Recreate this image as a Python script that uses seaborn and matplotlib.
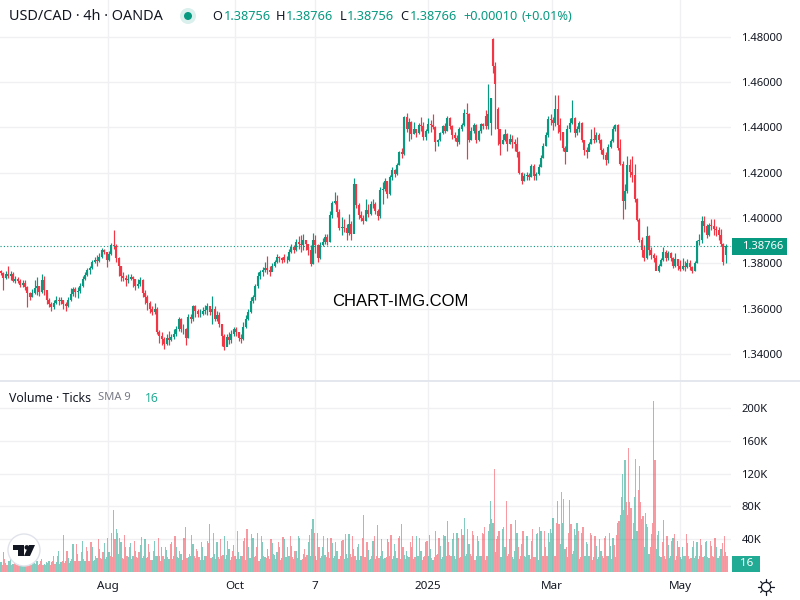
import numpy as np
import matplotlib
matplotlib.use('Agg')
import matplotlib.pyplot as plt
from matplotlib.patches import Circle, Rectangle, Polygon
import seaborn as sns

# 4h candles (one slot = 2.4 px)
opens = [
    1.3765,1.3758,1.3735,1.3752,1.3745,1.3755,1.3722,1.3730,1.3724,1.3705,
    1.3712,1.3697,1.3670,1.3652,1.3668,1.3690,1.3700,1.3672,1.3728,1.3680,
    1.3640,1.3620,1.3605,1.3625,1.3640,1.3632,1.3636,1.3622,1.3610,1.3640,
    1.3665,1.3685,1.3672,1.3678,1.3700,1.3730,1.3750,1.3770,1.3778,1.3805,
    1.3815,1.3810,1.3830,1.3860,1.3848,1.3815,1.3840,1.3880,1.3875,1.3825,
    1.3790,1.3745,1.3735,1.3728,1.3730,1.3740,1.3730,1.3700,1.3708,1.3725,
    1.3670,1.3650,1.3625,1.3600,1.3585,1.3600,1.3495,1.3480,1.3465,1.3445,
    1.3470,1.3460,1.3475,1.3490,1.3510,1.3555,1.3510,1.3510,1.3470,1.3565,
    1.3555,1.3610,1.3590,1.3575,1.3578,1.3590,1.3595,1.3610,1.3585,1.3600,
    1.3555,1.3570,1.3530,1.3480,1.3430,1.3475,1.3460,1.3490,1.3510,1.3495,
    1.3470,1.3465,1.3520,1.3555,1.3585,1.3635,1.3650,1.3700,1.3745,1.3760,
    1.3770,1.3780,1.3770,1.3760,1.3790,1.3805,1.3830,1.3822,1.3830,1.3815,
    1.3815,1.3850,1.3870,1.3860,1.3895,1.3885,1.3880,1.3905,1.3885,1.3860,
    1.3795,1.3905,1.3880,1.3825,1.3880,1.3895,1.3915,1.3895,1.4015,1.4068,
    1.4075,1.4027,1.3955,1.3960,1.3955,1.3935,1.3975,1.3930,1.4150,1.4057,
    1.4013,1.4000,1.3985,1.4035,1.4020,1.4060,1.4062,1.4030,1.4010,1.4125,
    1.4130,1.4165,1.4105,1.4180,1.4210,1.4195,1.4235,1.4290,1.4285,1.4445,
    1.4395,1.4425,1.4370,1.4395,1.4375,1.4410,1.4405,1.4360,1.4385,1.4415,
    1.4410,1.4400,1.4335,1.4345,1.4375,1.4405,1.4385,1.4440,1.4405,1.4365,
    1.4355,1.4335,1.4395,1.4410,1.4465,1.4460,1.4345,1.4385,1.4410,1.4345,
    1.4385,1.4415,1.4450,1.4405,1.4420,1.4790,1.4670,1.4480,1.4395,1.4325,
    1.4345,1.4370,1.4325,1.4350,1.4335,1.4325,1.4290,1.4200,1.4165,1.4185,
    1.4190,1.4180,1.4230,1.4185,1.4195,1.4225,1.4265,1.4320,1.4365,1.4439,
    1.4435,1.4420,1.4480,1.4410,1.4380,1.4310,1.4290,1.4395,1.4420,1.4440,
    1.4375,1.4395,1.4420,1.4345,1.4300,1.4290,1.4325,1.4350,1.4345,1.4365,
    1.4345,1.4300,1.4280,1.4255,1.4315,1.4340,1.4395,1.4410,1.4310,1.4240,
    1.4077,1.4120,1.4235,1.4205,1.4190,1.4085,1.3990,1.3905,1.3860,1.3825,
    1.3920,1.3860,1.3835,1.3825,1.3765,1.3790,1.3815,1.3850,1.3825,1.3845,
    1.3825,1.3790,1.3820,1.3790,1.3775,1.3790,1.3785,1.3800,1.3785,1.3765,
    1.3800,1.3900,1.3905,1.3985,1.3965,1.3925,1.3970,1.3965,1.3950,1.3945,
    1.3925,1.3885,1.3838]
highs = [
    1.3770,1.3762,1.3768,1.3790,1.3768,1.3760,1.3745,1.3738,1.3730,1.3725,
    1.3728,1.3700,1.3675,1.3685,1.3725,1.3738,1.3700,1.3755,1.3745,1.3675,
    1.3645,1.3630,1.3640,1.3655,1.3650,1.3650,1.3640,1.3630,1.3650,1.3690,
    1.3695,1.3695,1.3695,1.3715,1.3745,1.3760,1.3778,1.3790,1.3815,1.3830,
    1.3835,1.3845,1.3868,1.3862,1.3850,1.3855,1.3888,1.3947,1.3885,1.3830,
    1.3790,1.3760,1.3750,1.3752,1.3755,1.3745,1.3730,1.3730,1.3738,1.3730,
    1.3680,1.3660,1.3635,1.3610,1.3625,1.3605,1.3505,1.3495,1.3475,1.3490,
    1.3500,1.3490,1.3510,1.3525,1.3565,1.3560,1.3530,1.3515,1.3575,1.3575,
    1.3618,1.3615,1.3600,1.3600,1.3605,1.3615,1.3625,1.3612,1.3655,1.3610,
    1.3590,1.3585,1.3530,1.3490,1.3490,1.3495,1.3505,1.3520,1.3520,1.3495,
    1.3490,1.3540,1.3570,1.3600,1.3650,1.3660,1.3710,1.3760,1.3772,1.3782,
    1.3805,1.3834,1.3790,1.3800,1.3815,1.3840,1.3832,1.3830,1.3840,1.3832,
    1.3862,1.3885,1.3880,1.3908,1.3920,1.3925,1.3930,1.3905,1.3885,1.3880,
    1.3935,1.3925,1.3885,1.3895,1.3910,1.3930,1.3930,1.4030,1.4075,1.4114,
    1.4100,1.4040,1.4005,1.3995,1.3975,1.4020,1.3985,1.4175,1.4150,1.4065,
    1.4030,1.4015,1.4085,1.4060,1.4075,1.4085,1.4072,1.4040,1.4135,1.4160,
    1.4178,1.4160,1.4190,1.4225,1.4215,1.4245,1.4295,1.4310,1.4450,1.4466,
    1.4440,1.4430,1.4425,1.4395,1.4420,1.4445,1.4425,1.4395,1.4440,1.4435,
    1.4458,1.4405,1.4350,1.4380,1.4410,1.4420,1.4450,1.4445,1.4410,1.4380,
    1.4365,1.4400,1.4420,1.4480,1.4510,1.4462,1.4400,1.4420,1.4415,1.4390,
    1.4420,1.4420,1.4475,1.4593,1.4530,1.4797,1.4690,1.4490,1.4395,1.4370,
    1.4395,1.4375,1.4370,1.4365,1.4350,1.4360,1.4295,1.4205,1.4200,1.4205,
    1.4200,1.4240,1.4240,1.4205,1.4240,1.4280,1.4330,1.4380,1.4450,1.4461,
    1.4445,1.4542,1.4542,1.4440,1.4380,1.4320,1.4410,1.4440,1.4520,1.4445,
    1.4405,1.4430,1.4425,1.4345,1.4315,1.4335,1.4395,1.4400,1.4380,1.4375,
    1.4350,1.4310,1.4290,1.4325,1.4350,1.4405,1.4415,1.4415,1.4350,1.4250,
    1.4150,1.4275,1.4260,1.4275,1.4240,1.4090,1.3998,1.3915,1.3880,1.3965,
    1.3925,1.3870,1.3845,1.3835,1.3795,1.3825,1.3870,1.3860,1.3855,1.3850,
    1.3830,1.3845,1.3820,1.3815,1.3825,1.3810,1.3820,1.3815,1.3790,1.3810,
    1.3905,1.3930,1.4010,1.4010,1.3975,1.3980,1.3995,1.3995,1.3965,1.3960,
    1.3950,1.3890,1.3885]
lows = [
    1.3750,1.3682,1.3730,1.3735,1.3725,1.3718,1.3715,1.3712,1.3695,1.3695,
    1.3680,1.3605,1.3640,1.3650,1.3665,1.3660,1.3655,1.3670,1.3660,1.3620,
    1.3605,1.3590,1.3600,1.3620,1.3615,1.3620,1.3600,1.3590,1.3605,1.3635,
    1.3655,1.3650,1.3645,1.3670,1.3695,1.3725,1.3745,1.3755,1.3775,1.3800,
    1.3790,1.3805,1.3825,1.3840,1.3785,1.3810,1.3835,1.3865,1.3805,1.3745,
    1.3720,1.3720,1.3700,1.3715,1.3725,1.3695,1.3680,1.3690,1.3700,1.3650,
    1.3620,1.3595,1.3580,1.3570,1.3575,1.3490,1.3450,1.3440,1.3420,1.3440,
    1.3440,1.3455,1.3465,1.3480,1.3500,1.3495,1.3490,1.3440,1.3470,1.3535,
    1.3545,1.3565,1.3565,1.3565,1.3570,1.3575,1.3570,1.3570,1.3530,1.3545,
    1.3545,1.3520,1.3435,1.3418,1.3440,1.3445,1.3450,1.3480,1.3480,1.3455,
    1.3450,1.3460,1.3515,1.3550,1.3580,1.3625,1.3640,1.3690,1.3730,1.3745,
    1.3760,1.3755,1.3745,1.3770,1.3785,1.3800,1.3805,1.3800,1.3805,1.3800,
    1.3810,1.3845,1.3845,1.3855,1.3865,1.3850,1.3860,1.3860,1.3835,1.3790,
    1.3795,1.3845,1.3805,1.3820,1.3875,1.3885,1.3880,1.3895,1.4000,1.4060,
    1.4005,1.3945,1.3925,1.3940,1.3905,1.3925,1.3905,1.3945,1.4045,1.3995,
    1.3985,1.3975,1.3985,1.4005,1.4015,1.4045,1.4020,1.3990,1.4000,1.4060,
    1.4120,1.4090,1.4100,1.4170,1.4180,1.4190,1.4235,1.4265,1.4280,1.4380,
    1.4340,1.4350,1.4370,1.4360,1.4370,1.4385,1.4345,1.4345,1.4375,1.4380,
    1.4395,1.4295,1.4318,1.4340,1.4370,1.4375,1.4385,1.4395,1.4350,1.4340,
    1.4320,1.4325,1.4385,1.4405,1.4261,1.4335,1.4345,1.4375,1.4330,1.4340,
    1.4375,1.4395,1.4395,1.4395,1.4365,1.4640,1.4395,1.4322,1.4280,1.4325,
    1.4340,1.4295,1.4325,1.4310,1.4295,1.4270,1.4195,1.4150,1.4165,1.4170,
    1.4170,1.4180,1.4170,1.4170,1.4190,1.4225,1.4265,1.4320,1.4360,1.4410,
    1.4390,1.4405,1.4375,1.4345,1.4295,1.4238,1.4330,1.4380,1.4415,1.4360,
    1.4365,1.4380,1.4335,1.4280,1.4265,1.4295,1.4325,1.4330,1.4335,1.4330,
    1.4285,1.4260,1.4235,1.4245,1.4310,1.4335,1.4385,1.4300,1.4235,1.3997,
    1.4040,1.4110,1.4180,1.4160,1.4070,1.3985,1.3895,1.3830,1.3810,1.3820,
    1.3835,1.3820,1.3805,1.3770,1.3760,1.3790,1.3810,1.3810,1.3815,1.3810,
    1.3780,1.3785,1.3770,1.3765,1.3770,1.3765,1.3780,1.3770,1.3758,1.3765,
    1.3800,1.3880,1.3890,1.3940,1.3910,1.3920,1.3945,1.3925,1.3920,1.3905,
    1.3875,1.3792,1.3800]
closes = [
    1.3758,1.3735,1.3752,1.3745,1.3755,1.3722,1.3730,1.3724,1.3705,1.3712,
    1.3697,1.3670,1.3652,1.3668,1.3690,1.3700,1.3672,1.3728,1.3680,1.3640,
    1.3620,1.3605,1.3625,1.3640,1.3632,1.3636,1.3622,1.3610,1.3640,1.3665,
    1.3685,1.3672,1.3678,1.3700,1.3730,1.3750,1.3770,1.3778,1.3805,1.3815,
    1.3810,1.3830,1.3860,1.3848,1.3815,1.3840,1.3880,1.3875,1.3825,1.3790,
    1.3745,1.3735,1.3728,1.3730,1.3740,1.3730,1.3700,1.3708,1.3725,1.3670,
    1.3650,1.3625,1.3600,1.3585,1.3600,1.3495,1.3480,1.3465,1.3445,1.3470,
    1.3460,1.3475,1.3490,1.3510,1.3555,1.3510,1.3510,1.3470,1.3565,1.3555,
    1.3610,1.3590,1.3575,1.3578,1.3590,1.3595,1.3610,1.3585,1.3600,1.3555,
    1.3570,1.3530,1.3480,1.3430,1.3475,1.3460,1.3490,1.3510,1.3495,1.3470,
    1.3465,1.3520,1.3555,1.3585,1.3635,1.3650,1.3700,1.3745,1.3760,1.3770,
    1.3780,1.3770,1.3760,1.3790,1.3805,1.3830,1.3822,1.3815,1.3815,1.3815,
    1.3850,1.3870,1.3860,1.3895,1.3885,1.3880,1.3905,1.3885,1.3860,1.3795,
    1.3905,1.3880,1.3825,1.3880,1.3895,1.3915,1.3895,1.4015,1.4068,1.4075,
    1.4027,1.3955,1.3960,1.3955,1.3935,1.3975,1.3930,1.4150,1.4057,1.4013,
    1.4000,1.3985,1.4035,1.4020,1.4060,1.4062,1.4030,1.4010,1.4125,1.4130,
    1.4165,1.4105,1.4180,1.4210,1.4195,1.4235,1.4290,1.4285,1.4445,1.4395,
    1.4425,1.4370,1.4395,1.4375,1.4410,1.4405,1.4360,1.4385,1.4415,1.4410,
    1.4400,1.4335,1.4345,1.4375,1.4405,1.4385,1.4440,1.4405,1.4365,1.4355,
    1.4335,1.4395,1.4410,1.4465,1.4460,1.4345,1.4385,1.4410,1.4345,1.4385,
    1.4415,1.4405,1.4405,1.4460,1.4530,1.4670,1.4590,1.4395,1.4325,1.4345,
    1.4370,1.4325,1.4350,1.4335,1.4325,1.4290,1.4200,1.4165,1.4185,1.4190,
    1.4180,1.4230,1.4185,1.4195,1.4225,1.4265,1.4320,1.4365,1.4439,1.4435,
    1.4420,1.4480,1.4410,1.4380,1.4310,1.4290,1.4395,1.4420,1.4440,1.4375,
    1.4395,1.4420,1.4345,1.4300,1.4290,1.4325,1.4350,1.4345,1.4365,1.4345,
    1.4300,1.4280,1.4255,1.4315,1.4340,1.4395,1.4410,1.4310,1.4240,1.4077,
    1.4120,1.4235,1.4205,1.4190,1.4085,1.3990,1.3905,1.3860,1.3825,1.3920,
    1.3860,1.3835,1.3825,1.3765,1.3790,1.3815,1.3850,1.3825,1.3845,1.3825,
    1.3790,1.3820,1.3790,1.3775,1.3790,1.3785,1.3800,1.3785,1.3765,1.3800,
    1.3900,1.3905,1.3985,1.3965,1.3925,1.3970,1.3965,1.3950,1.3945,1.3925,
    1.3885,1.3805,1.38766]

# volume in thousands of ticks, the teal and the red bars of each slot
vol_up = [
    12,24,11,14,20,10,11,16,10,12, 10,15,11,18,11,13,10,16,10,12,
    14,12,19,12,26,12,45,13,17,13, 34,14,22,14,38,13,25,14,31,15,
    17,28,16,35,18,24,48,75,52,22, 37,16,30,18,35,19,26,17,33,17,
    40,18,24,15,38,20,20,30,16,27, 16,36,19,31,17,22,42,55,18,20,
    34,17,25,15,30,20,38,58,18,22, 36,16,19,44,21,28,18,33,16,24,
    19,38,15,30,17,42,20,48,16,36, 18,28,16,35,21,24,30,17,40,18,
    19,32,16,26,44,15,22,18,36,19, 65,20,48,17,30,21,42,17,35,19,
    26,16,38,16,22,46,18,28,15,34, 20,69,18,27,16,38,16,57,19,25,
    17,40,20,16,34,17,44,58,21,26, 18,30,16,44,19,25,18,36,20,28,
    15,50,22,32,18,44,62,21,40,20, 47,17,52,66,22,34,20,45,19,38,
    20,46,15,50,87,60,24,44,18,52, 30,19,40,18,26,48,16,34,20,44,
    21,38,18,46,15,50,19,30,48,53, 66,20,86,34,60,28,18,88,22,52,
    60,16,47,19,36,20,45,18,32,18, 25,17,44,20,32,42,18,60,70,120,
    136,70,85,40,92,50,129,65,30,58, 22,46,208,28,50,18,64,16,33,19,
    42,15,38,18,30,20,35,16,30,17, 36,19,33,20,38,17,32,18,30,17,
    28,20,24]
vol_down = [
    9,16,9,13,8,18,9,10,14,9, 8,12,8,15,10,8,13,9,9,11,
    9,14,10,19,10,13,11,25,11,16, 14,34,13,24,16,30,14,36,14,20,
    40,17,24,16,42,20,18,40,48,42, 17,45,19,30,16,38,18,24,43,19,
    17,34,15,26,19,41,14,20,30,18, 34,16,44,18,25,15,41,17,22,45,
    19,28,18,37,15,20,35,17,48,16, 18,40,21,16,38,15,25,19,50,16,
    20,42,52,17,46,18,30,14,44,20, 17,19,40,22,16,36,15,43,18,30,
    44,18,26,17,41,16,28,21,45,52, 48,15,30,19,44,18,24,41,17,37,
    16,20,39,46,17,22,44,19,30,15, 41,18,36,15,20,44,20,17,40,16,
    18,37,45,19,25,41,16,30,16,20, 36,44,18,20,42,15,19,38,45,17,
    18,21,42,16,45,20,37,19,48,16, 42,18,45,20,52,22,50,15,44,20,
    48,55,20,58,65,125,40,50,18,55, 87,22,58,16,63,30,19,50,18,44,
    16,52,18,47,55,20,50,20,36,48, 20,60,58,98,89,30,47,58,25,45,
    50,18,55,19,34,47,15,44,16,40, 20,42,20,48,16,33,45,62,91,75,
    85,151,78,60,138,100,85,68,72,55, 30,60,136,45,20,36,19,44,17,38,
    46,19,30,16,20,46,20,17,38,19, 16,40,18,36,18,38,20,42,17,20,
    35,44,20]

time_ticks = [44.6, 97.5, 130.8, 177.9, 229.6, 282.9]
time_labels = ['Aug', 'Oct', '7', '2025', 'Mar', 'May']
price_ticks = [1.34, 1.36, 1.38, 1.40, 1.42, 1.44, 1.46, 1.48]
vol_ticks = [40, 80, 120, 160, 200]
last_price = 1.38766

UP = '#089981'
DOWN = '#F23645'
GRID = '#F0F0F3'
TEXT = '#131722'

sns.set_theme(style='white')
plt.rcParams['font.family'] = ['Noto Sans', 'DejaVu Sans']

o = np.array(opens)
h = np.array(highs)
l = np.array(lows)
c = np.array(closes)
slots = np.arange(len(c))

fig = plt.figure(figsize=(8, 6), dpi=100)
ax = fig.add_axes([0, 1 - 381 / 600, 731 / 800, 381 / 600])
ax2 = fig.add_axes([0, 28 / 600, 731 / 800, 190 / 600])

# price pane
colors = [UP if b >= a else DOWN for a, b in zip(o, c)]
ax.vlines(slots, l, h, colors=colors, linewidth=0.85, zorder=3)
ax.vlines(slots, np.minimum(o, c), np.maximum(o, c), colors=colors, linewidth=1.5, zorder=3)
ax.axhline(last_price, color=UP, linewidth=0.8, linestyle=(0, (1, 2)), zorder=4)
ax.set_ylim(1.32803, 1.4963)
ax.set_yticks(price_ticks)
ax.set_yticklabels([f'{p:.5f}' for p in price_ticks])

# volume pane
sns.barplot(x=slots, y=vol_up, native_scale=True, color=UP, alpha=0.5, saturation=1,
            width=0.5, linewidth=0, ax=ax2, zorder=3)
sns.barplot(x=slots + 0.5, y=vol_down, native_scale=True, color=DOWN, alpha=0.5, saturation=1,
            width=0.5, linewidth=0, ax=ax2, zorder=3)
ax2.set_ylim(0, 231.7)
ax2.set_yticks(vol_ticks)
ax2.set_yticklabels([f'{v}K' for v in vol_ticks])
ax2.set_xlabel('')
ax2.set_ylabel('')

for a in (ax, ax2):
    a.set_xlim(-0.4167, 304.17)
    a.set_xticks(time_ticks)
    a.grid(True, color=GRID, linewidth=1, zorder=0)
    a.set_axisbelow(True)
    a.yaxis.tick_right()
    a.tick_params(axis='y', length=0, pad=7.5, labelsize=8.1, labelcolor=TEXT)
    a.tick_params(axis='x', length=0)
    for s in a.spines.values():
        s.set_visible(False)

ax.tick_params(axis='x', labelbottom=False)
ax2.set_xticklabels(time_labels, fontsize=8.4, color=TEXT)
ax2.tick_params(axis='x', pad=6.5)
ax2.get_xticklabels()[3].set_fontweight('bold')

# overlay in pixel coordinates for the header, badges and icons
top = fig.add_axes([0, 0, 1, 1], zorder=10)
top.set_xlim(0, 800)
top.set_ylim(600, 0)
top.axis('off')
top.patch.set_alpha(0)

top.plot([0, 800], [381, 381], color='#E0E3EB', linewidth=1.2)
top.text(9, 16, 'USD/CAD · 4h · OANDA', fontsize=10.4, color=TEXT, va='center')
top.add_patch(Circle((188, 16), 8, color='#DAF0EC', linewidth=0))
top.add_patch(Circle((188, 16), 4, color=UP, linewidth=0))

for x, s, col in [(212, 'O', TEXT), (224, '1.38756', UP), (276, 'H', TEXT), (286, '1.38766', UP),
                  (340, 'L', TEXT), (347, '1.38756', UP), (400, 'C', TEXT), (410, '1.38766', UP),
                  (463, '+0.00010', UP), (521, '(+0.01%)', UP)]:
    top.text(x, 16, s, fontsize=9.2, color=col, va='center')

top.text(400, 301, 'CHART-IMG.COM', fontsize=12, color='black', ha='center', va='center',
         family='Liberation Sans')

top.text(9, 398, 'Volume · Ticks', fontsize=8.9, color=TEXT, va='center')
top.text(98, 398, 'SMA 9', fontsize=8, color='#787B86', va='center')
top.text(145, 398, '16', fontsize=8.8, color='#22AB94', va='center')

top.add_patch(Rectangle((732, 238), 55, 17, color=UP, linewidth=0))
top.text(742, 246.5, '1.38766', fontsize=8.1, color='white', va='center')
top.add_patch(Rectangle((732, 556), 28, 16, color='#22AB94', linewidth=0))
top.text(740, 564, '16', fontsize=8.4, color='white', va='center')

# TradingView logo
top.add_patch(Circle((24, 550), 16, facecolor='white', edgecolor='#E0E3EB', linewidth=1))
top.add_patch(Polygon([(13, 545), (24, 545), (24, 556), (18, 556), (18, 550), (13, 550)], color=TEXT, linewidth=0))
top.add_patch(Circle((26.8, 547.4), 2.3, color=TEXT, linewidth=0))
top.add_patch(Polygon([(29, 545), (35, 545), (30, 556), (24, 556)], color=TEXT, linewidth=0))

# settings icon
top.add_patch(Circle((766, 587), 4.6, facecolor='none', edgecolor=TEXT, linewidth=0.9))
for ang in np.arange(0, 360, 45):
    dx, dy = np.cos(np.radians(ang)), np.sin(np.radians(ang))
    top.plot([766 + 5.4 * dx, 766 + 7.6 * dx], [587 + 5.4 * dy, 587 + 7.6 * dy], color=TEXT, linewidth=0.9)

fig.savefig('out.png', dpi=100)
